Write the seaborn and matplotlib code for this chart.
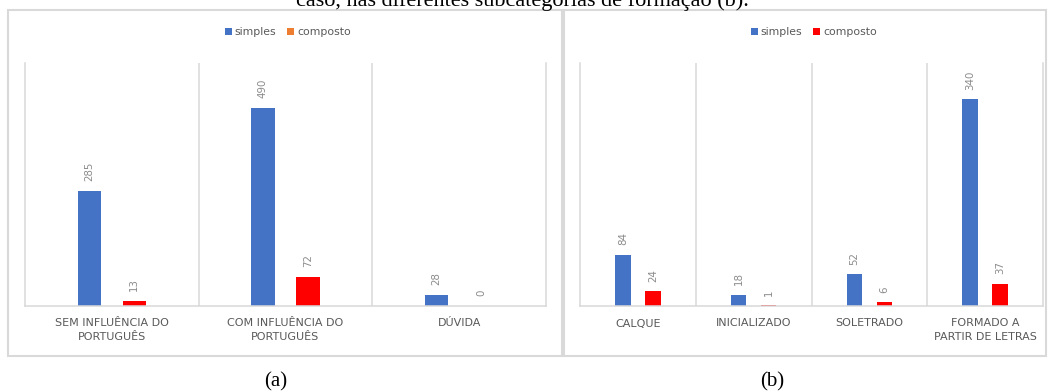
import matplotlib
matplotlib.use("Agg")
import matplotlib.pyplot as plt
from matplotlib.patches import Patch, Rectangle
import pandas as pd
import seaborn as sns

# Data
cats_a = ["SEM INFLUÊNCIA DO\nPORTUGUÊS", "COM INFLUÊNCIA DO\nPORTUGUÊS", "DÚVIDA"]
simples_a = [285, 490, 28]
composto_a = [13, 72, 0]

cats_b = ["CALQUE", "INICIALIZADO", "SOLETRADO", "FORMADO A\nPARTIR DE LETRAS"]
simples_b = [84, 18, 52, 340]
composto_b = [24, 1, 6, 37]

series = ["simples", "composto"]
caption_top = "caso, nas diferentes subcategorias de formação (b)."
panel_tags = ["(a)", "(b)"]

BLUE = "#4472C4"
RED = "#FF0000"
ORANGE = "#ED7D31"
GRID = "#d9d9d9"
TXT = "#595959"
LBL = "#8c8c8c"

sns.set_theme(style="white")
plt.rcParams["font.family"] = ["DejaVu Sans"]

W, H = 1049, 392
fig = plt.figure(figsize=(W / 100, H / 100), dpi=100)
fig.patch.set_facecolor("white")


def px_box(x0, y0, x1, y1):
    return [x0 / W, 1 - y1 / H, (x1 - x0) / W, (y1 - y0) / H]


def long_frame(cats, s, c):
    return pd.DataFrame({
        "categoria": cats * 2,
        "tipo": [series[0]] * len(cats) + [series[1]] * len(cats),
        "valor": s + c,
    })


def draw_panel(ax, cats, s, c, ymax, legend_colors, legend_xy):
    df = long_frame(cats, s, c)
    sns.barplot(data=df, x="categoria", y="valor", hue="tipo",
                hue_order=series, order=cats,
                palette={series[0]: BLUE, series[1]: RED},
                width=0.52, gap=0.48, linewidth=0, saturation=1,
                legend=False, ax=ax)
    n = len(cats)
    ax.set_xlim(-0.5, n - 0.5)
    ax.set_ylim(0, ymax)
    ax.set_xlabel("")
    ax.set_ylabel("")
    ax.set_yticks([])
    ax.set_xticks(range(n))
    ax.set_xticklabels(cats, color=TXT, fontsize=8, linespacing=1.4)
    ax.tick_params(axis="x", length=0, pad=9)
    # category separators
    ax.set_xticks([i + 0.5 for i in range(n - 1)], minor=True)
    ax.tick_params(axis="x", which="minor", length=0)
    ax.grid(False)
    ax.grid(True, axis="x", which="minor", color=GRID, linewidth=1.1)
    for side in ("left", "right", "bottom"):
        ax.spines[side].set_visible(True)
        ax.spines[side].set_color(GRID)
        ax.spines[side].set_linewidth(1.1)
    ax.spines["top"].set_visible(False)
    for cont in ax.containers:
        ax.bar_label(cont, fmt="%d", rotation=90, padding=7,
                     color=LBL, fontsize=7.4)
    handles = [Patch(facecolor=col, edgecolor="none", label=lab)
               for col, lab in zip(legend_colors, series)]
    ax.legend(handles=handles, loc="center", ncol=2, frameon=False,
              bbox_to_anchor=legend_xy, bbox_transform=fig.transFigure,
              fontsize=7.8, handlelength=0.6, handleheight=0.6,
              handletextpad=0.3, columnspacing=1.0, labelcolor=TXT)


ax_a = fig.add_axes(px_box(25, 63, 546, 306))
ax_b = fig.add_axes(px_box(580, 63, 1043, 306))

draw_panel(ax_a, cats_a, simples_a, composto_a, 600,
           [BLUE, ORANGE], (288 / W, 1 - 32 / H))
draw_panel(ax_b, cats_b, simples_b, composto_b, 400,
           [BLUE, RED], (814 / W, 1 - 32 / H))

# panel frames
for x0, x1 in ((8, 562), (564, 1046)):
    fig.add_artist(Rectangle((x0 / W, 1 - 356 / H), (x1 - x0) / W, 346 / H,
                             transform=fig.transFigure, fill=False,
                             edgecolor=GRID, linewidth=1.5))

serif = ["Liberation Serif", "DejaVu Serif"]
fig.text(522 / W, 1 - 6 / H, caption_top, ha="center", va="baseline",
         fontsize=16, family=serif, color="black")
fig.text(276 / W, 1 - 386 / H, panel_tags[0], ha="center", va="baseline",
         fontsize=15, family=serif, color="black")
fig.text(772 / W, 1 - 386 / H, panel_tags[1], ha="center", va="baseline",
         fontsize=15, family=serif, color="black")

fig.savefig("out.png", dpi=100, facecolor="white")
